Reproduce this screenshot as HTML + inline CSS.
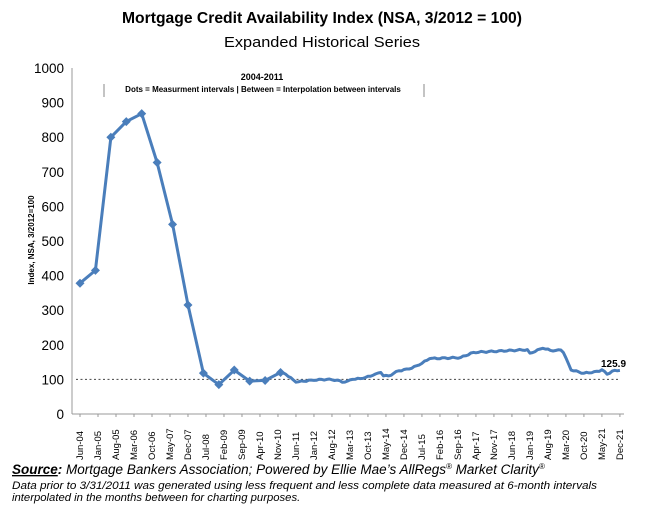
<!DOCTYPE html>
<html><head><meta charset="utf-8"><style>
body{margin:0;background:#fff;width:645px;height:510px;overflow:hidden;font-family:"Liberation Sans",sans-serif}
</style></head><body>
<svg id="s" width="645" height="510" xmlns="http://www.w3.org/2000/svg" font-family="Liberation Sans, sans-serif">
<text x="322" y="23" text-anchor="middle" font-size="15.5" font-weight="bold" textLength="400" lengthAdjust="spacingAndGlyphs">Mortgage Credit Availability Index (NSA, 3/2012 = 100)</text>
<text x="322" y="47" text-anchor="middle" font-size="15" textLength="196" lengthAdjust="spacingAndGlyphs">Expanded Historical Series</text>
<text transform="translate(34,240) rotate(-90)" text-anchor="middle" font-size="8" font-weight="bold">Index, NSA, 3/2012=100</text>
<line x1="72" y1="68" x2="72" y2="414" stroke="#999" stroke-width="1"/>
<line x1="72" y1="414" x2="624" y2="414" stroke="#999" stroke-width="1"/>
<g id="yt" font-size="13.5" text-anchor="end"></g>
<g id="xt" font-size="9.5"></g>
<line x1="76" y1="379.4" x2="618" y2="379.4" stroke="#444" stroke-width="1" stroke-dasharray="2,2.5"/>
<text x="262" y="80" text-anchor="middle" font-size="9" font-weight="bold">2004-2011</text>
<text x="263" y="92" text-anchor="middle" font-size="8" font-weight="bold">Dots = Measurment intervals  |  Between = Interpolation between intervals</text>
<line x1="104" y1="84" x2="104" y2="97" stroke="#888"/>
<line x1="424" y1="84" x2="424" y2="97" stroke="#888"/>
<path id="ln" fill="none" stroke="#4a7ebb" stroke-width="3" stroke-linejoin="round"/>
<g id="dots" fill="#4a7ebb"></g>
<text x="601" y="367" font-size="10" font-weight="bold">125.9</text>
<text x="12" y="474" font-size="13.5" font-style="italic"><tspan font-weight="bold" text-decoration="underline">Source</tspan><tspan font-weight="bold">:</tspan> Mortgage Bankers Association; Powered by Ellie Mae’s AllRegs<tspan font-size="8" dy="-5">®</tspan><tspan dy="5"> Market Clarity</tspan><tspan font-size="8" dy="-5">®</tspan></text>
<text x="12" y="489" font-size="11.3" font-style="italic" textLength="585" lengthAdjust="spacingAndGlyphs">Data prior to 3/31/2011 was generated using less frequent and less complete data measured at 6-month intervals</text>
<text x="12" y="501" font-size="11.3" font-style="italic">interpolated in the months between for charting purposes.</text>
</svg>
<script>
var NS="http://www.w3.org/2000/svg";
function X(m){return 80+m*2.571}function Y(v){return 414-v*0.346}
var yt=document.getElementById('yt');
for(var v=0;v<=1000;v+=100){var t=document.createElementNS(NS,'text');t.setAttribute('x',64);t.setAttribute('y',Y(v)+5);t.textContent=v;yt.appendChild(t);}
var mons=['Jan','Feb','Mar','Apr','May','Jun','Jul','Aug','Sep','Oct','Nov','Dec'];
var xt=document.getElementById('xt');
for(var i=0;i<=30;i++){var m=i*7;var mi=(5+m)%12;var yr=4+Math.floor((5+m)/12);
var t=document.createElementNS(NS,'text');var x=X(m)+3;
t.setAttribute('transform','translate('+x+',460) rotate(-90)');t.textContent=mons[mi]+'-'+(yr<10?'0':'')+yr;xt.appendChild(t);
var tk=document.createElementNS(NS,'line');tk.setAttribute('x1',X(m));tk.setAttribute('x2',X(m));tk.setAttribute('y1',414);tk.setAttribute('y2',417);tk.setAttribute('stroke','#999');xt.appendChild(tk);}
var a=[[0,378],[6,415],[12,800],[18,845],[24,868],[30,727],[36,548],[42,315],[48,118],[54,85],[60,127],[66,95],[72,97],[78,120],[80,115],[84,92],[90,98],[96,100],[100,98],[102,92],[104,95],[106,100],[110,103],[114,112],[117,120],[118,110],[120,110],[124,125],[128,130],[132,142],[136,160],[148,163],[153,178],[174,186],[175,176],[180,190],[184,182],[187,185],[188,178],[191,127],[196,118],[202,123],[203,128],[205,115],[207,124],[210,125.9]];
var d='M'+X(0)+','+Y(378);
for(var k=1;k<a.length;k++){var p=a[k-1],q=a[k];
 if(p[0]>=78){for(var m=p[0]+1;m<=q[0];m++){var v=p[1]+(q[1]-p[1])*(m-p[0])/(q[0]-p[0]);if(m!=q[0])v+=Math.sin(m*1.7)*1.8;d+=' L'+X(m).toFixed(1)+','+Y(v).toFixed(1);}}
 else d+=' L'+X(q[0]).toFixed(1)+','+Y(q[1]).toFixed(1);}
document.getElementById('ln').setAttribute('d',d);
var g=document.getElementById('dots');
for(var k=0;k<a.length&&a[k][0]<=78;k++){var x=X(a[k][0]),y=Y(a[k][1]);var r=document.createElementNS(NS,'path');
r.setAttribute('d','M'+x+','+(y-4.5)+' L'+(x+4.5)+','+y+' L'+x+','+(y+4.5)+' L'+(x-4.5)+','+y+'Z');g.appendChild(r);}
</script>
</body></html>
